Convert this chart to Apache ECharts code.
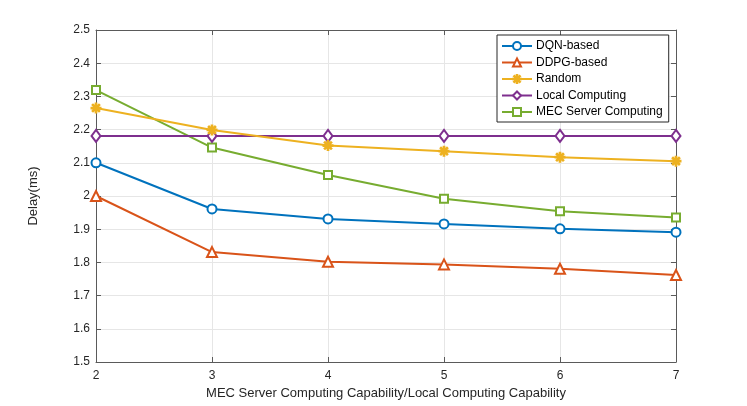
<!DOCTYPE html>
<html>
<head>
<meta charset="utf-8">
<script src="https://cdn.jsdelivr.net/npm/echarts@6/dist/echarts.min.js"></script>
<style>
  html, body { margin: 0; padding: 0; background: #ffffff; }
  #chart { width: 747px; height: 406px; }
</style>
</head>
<body>
<div id="chart"></div>
<script>
// x values (capability ratio)
const ratios = [2, 3, 4, 5, 6, 7]
// delay values (ms)
const dqnDelay = [2.10, 1.961, 1.931, 1.916, 1.901, 1.891]
const ddpgDelay = [2.00, 1.831, 1.802, 1.794, 1.781, 1.762]
const randomDelay = [2.265, 2.199, 2.152, 2.135, 2.117, 2.105]
const localDelay = [2.181, 2.181, 2.181, 2.181, 2.181, 2.181]
const mecDelay = [2.319, 2.146, 2.063, 1.992, 1.954, 1.935]
const seriesNames = ['DQN-based', 'DDPG-based', 'Random', 'Local Computing', 'MEC Server Computing']

const asterisk = 'path://M0,4.6L10,4.6L10,5.4L0,5.4Z M4.6,0L5.4,0L5.4,10L4.6,10Z M1.2,1.7L1.7,1.2L8.8,8.3L8.3,8.8Z M8.3,1.2L8.8,1.7L1.7,8.8L1.2,8.3Z'

const colors = ['#0072BD', '#D95319', '#EDB120', '#7E2F8E', '#77AC30']
const symbols = ['emptyCircle', 'emptyTriangle', asterisk, 'emptyDiamond', 'emptyRect']
const sizes = [9, 10, 9, [9, 12], 8]
const allData = [dqnDelay, ddpgDelay, randomDelay, localDelay, mecDelay]

const axisColor = '#5a5a5a'
const font = 'Liberation Sans, Arial, sans-serif'

const myChart = echarts.init(document.getElementById('chart'))

const baseAxis = {
  axisLine: { show: true, lineStyle: { color: axisColor, width: 1 } },
  axisTick: { show: true, inside: true, length: 5, lineStyle: { color: axisColor } }
}

const option = {
  animation: false,
  backgroundColor: '#ffffff',
  textStyle: { fontFamily: font },
  grid: { left: 96, right: 71, top: 30, bottom: 44 },
  legend: {
    orient: 'vertical',
    left: 497,
    top: 35,
    padding: [5, 6, 4, 4],
    itemGap: 4.5,
    itemWidth: 30,
    itemHeight: 10,
    backgroundColor: '#ffffff',
    borderColor: '#262626',
    borderWidth: 1,
    borderRadius: 0,
    textStyle: { fontFamily: font, fontSize: 12, color: '#000000', padding: [0, 0, 0, -1] },
    data: seriesNames
  },
  xAxis: [
    Object.assign({}, baseAxis, {
      type: 'value',
      min: 2,
      max: 7,
      interval: 1,
      name: 'MEC Server Computing Capability/Local Computing Capability',
      nameLocation: 'middle',
      nameGap: 22,
      nameTextStyle: { fontFamily: font, fontSize: 13, color: '#262626' },
      axisLabel: { fontFamily: font, fontSize: 12, color: '#262626', margin: 8 },
      splitLine: { show: true, lineStyle: { color: '#e6e6e6', width: 1 } }
    }),
    Object.assign({}, baseAxis, {
      type: 'value',
      position: 'top',
      min: 2,
      max: 7,
      interval: 1,
      axisLabel: { show: false },
      splitLine: { show: false }
    })
  ],
  yAxis: [
    Object.assign({}, baseAxis, {
      type: 'value',
      min: 1.5,
      max: 2.5,
      interval: 0.1,
      name: 'Delay(ms)',
      nameLocation: 'middle',
      nameGap: 56,
      nameTextStyle: { fontFamily: font, fontSize: 13, color: '#262626' },
      axisLabel: { fontFamily: font, fontSize: 12, color: '#262626', margin: 6 },
      splitLine: { show: true, lineStyle: { color: '#e6e6e6', width: 1 } }
    }),
    Object.assign({}, baseAxis, {
      type: 'value',
      position: 'right',
      min: 1.5,
      max: 2.5,
      interval: 0.1,
      axisLabel: { show: false },
      splitLine: { show: false }
    })
  ],
  series: seriesNames.map((name, i) => ({
    name: name,
    type: 'line',
    data: ratios.map((x, j) => [x, allData[i][j]]),
    symbol: symbols[i],
    symbolSize: sizes[i],
    showAllSymbol: true,
    color: colors[i],
    lineStyle: { color: colors[i], width: 2 },
    itemStyle: { color: colors[i], borderColor: colors[i], borderWidth: 2 },
    z: 10 - i
  }))
}

myChart.setOption(option)
</script>
</body>
</html>
